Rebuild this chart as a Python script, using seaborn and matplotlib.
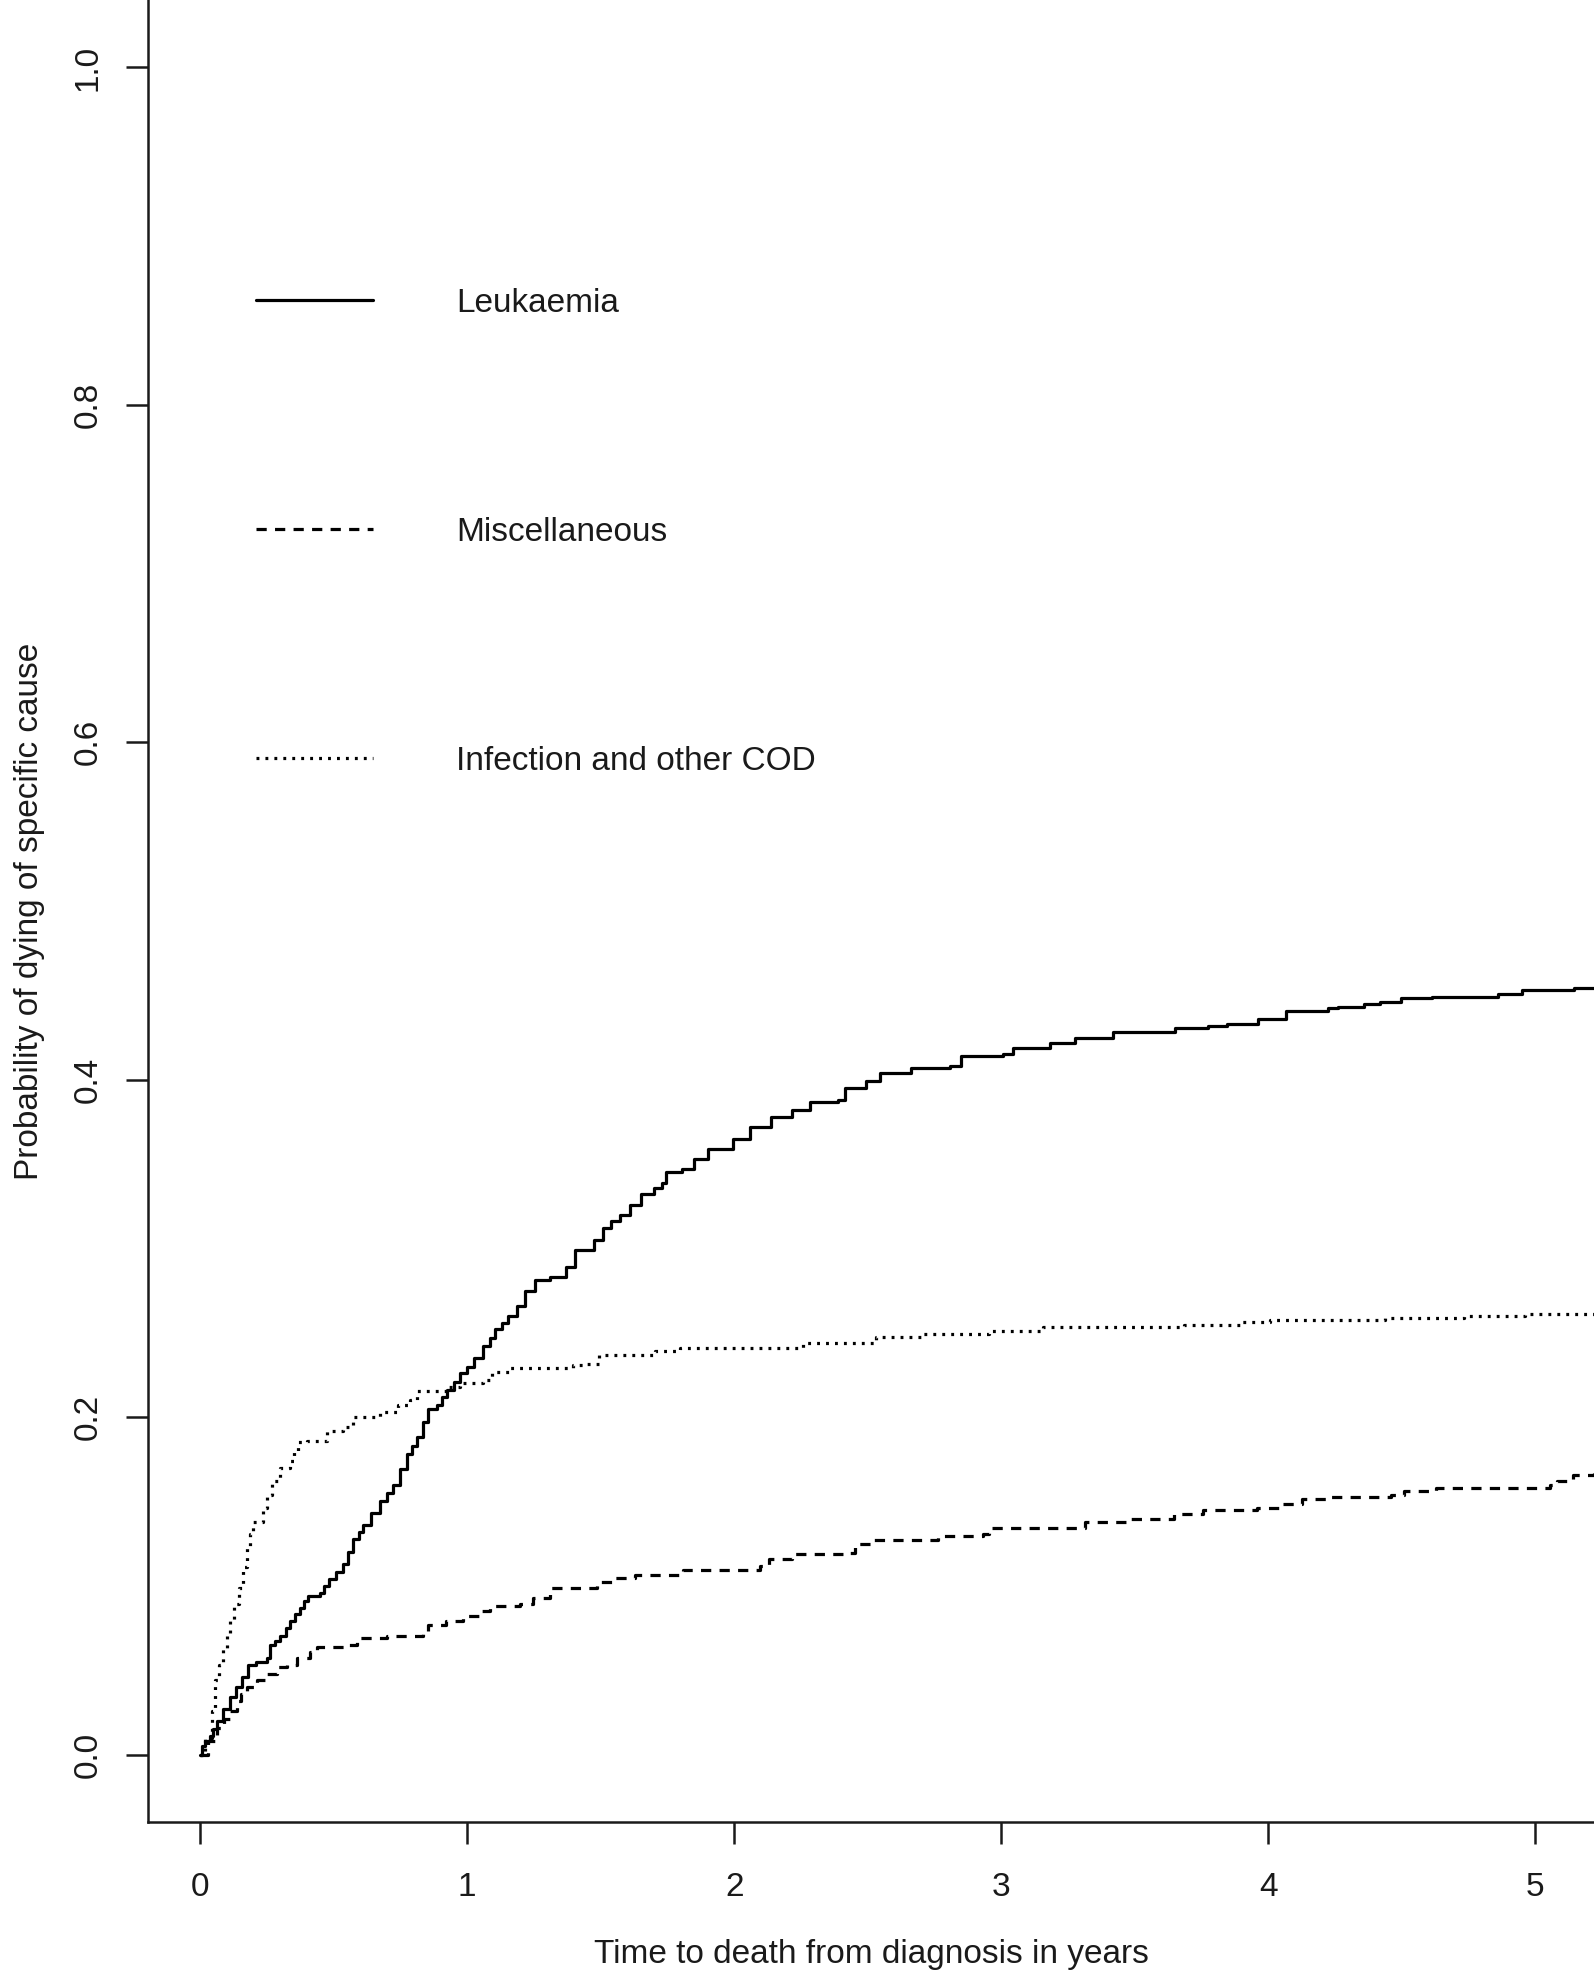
import numpy as np
import pandas as pd
import matplotlib
matplotlib.use('Agg')
import matplotlib.pyplot as plt
import seaborn as sns

# cumulative incidence by cause: (years, probability)
leukaemia = [(0.0, 0.0), (0.006, 0.005), (0.02, 0.008), (0.037, 0.011), (0.05, 0.015),
             (0.063, 0.020), (0.085, 0.027), (0.112, 0.034), (0.135, 0.040), (0.156, 0.046),
             (0.181, 0.053), (0.21, 0.055), (0.25, 0.057), (0.262, 0.065), (0.28, 0.067),
             (0.30, 0.070), (0.32, 0.075), (0.337, 0.079), (0.355, 0.083), (0.375, 0.087),
             (0.39, 0.091), (0.406, 0.094), (0.449, 0.096), (0.465, 0.100), (0.481, 0.104),
             (0.51, 0.108), (0.537, 0.113), (0.555, 0.120), (0.574, 0.128), (0.595, 0.132),
             (0.612, 0.136), (0.64, 0.143), (0.674, 0.150), (0.70, 0.155), (0.724, 0.160),
             (0.75, 0.169), (0.774, 0.178), (0.795, 0.183), (0.812, 0.188), (0.835, 0.197),
             (0.855, 0.205), (0.886, 0.207), (0.905, 0.212), (0.924, 0.216), (0.95, 0.221),
             (0.974, 0.226), (1.0, 0.230), (1.024, 0.235), (1.061, 0.242), (1.085, 0.247),
             (1.105, 0.252), (1.13, 0.256), (1.155, 0.260), (1.186, 0.266), (1.217, 0.275),
             (1.255, 0.281), (1.311, 0.283), (1.37, 0.289), (1.403, 0.299), (1.475, 0.305),
             (1.508, 0.312), (1.54, 0.316), (1.573, 0.320), (1.61, 0.326), (1.652, 0.332),
             (1.70, 0.336), (1.731, 0.339), (1.744, 0.345), (1.803, 0.347), (1.849, 0.353),
             (1.902, 0.359), (1.994, 0.365), (2.06, 0.372), (2.139, 0.378), (2.217, 0.382),
             (2.283, 0.387), (2.388, 0.388), (2.414, 0.395), (2.493, 0.399), (2.546, 0.404),
             (2.664, 0.407), (2.809, 0.408), (2.848, 0.414), (3.005, 0.415), (3.045, 0.419),
             (3.184, 0.4216), (3.275, 0.4245), (3.418, 0.428), (3.652, 0.4304), (3.775, 0.4318),
             (3.846, 0.4332), (3.963, 0.4358), (4.067, 0.4407), (4.223, 0.4423), (4.262, 0.4433),
             (4.36, 0.4447), (4.418, 0.4458), (4.496, 0.4482), (4.613, 0.4492), (4.86, 0.4506),
             (4.95, 0.4532), (5.146, 0.4545), (5.22, 0.4545)]

miscellaneous = [(0.0, 0.0), (0.03, 0.008), (0.062, 0.016), (0.09, 0.021), (0.112, 0.026),
                 (0.137, 0.032), (0.155, 0.036), (0.175, 0.040), (0.212, 0.044), (0.25, 0.048),
                 (0.287, 0.052), (0.325, 0.053), (0.362, 0.057), (0.412, 0.061), (0.437, 0.064),
                 (0.549, 0.065), (0.587, 0.069), (0.699, 0.070), (0.836, 0.072), (0.855, 0.077),
                 (0.92, 0.079), (0.986, 0.082), (1.049, 0.085), (1.086, 0.088), (1.199, 0.089),
                 (1.248, 0.093), (1.311, 0.0985), (1.423, 0.099), (1.486, 0.102), (1.546, 0.1048),
                 (1.629, 0.1067), (1.809, 0.1091), (2.095, 0.1117), (2.131, 0.1156), (2.215, 0.1186),
                 (2.418, 0.1196), (2.453, 0.1245), (2.525, 0.1269), (2.764, 0.1295), (2.931, 0.1308),
                 (2.955, 0.1344), (3.313, 0.138), (3.48, 0.1399), (3.648, 0.1423), (3.755, 0.1452),
                 (3.958, 0.1462), (4.054, 0.1482), (4.125, 0.1512), (4.221, 0.1528), (4.46, 0.1541),
                 (4.508, 0.1561), (4.627, 0.1581), (5.056, 0.16), (5.081, 0.162), (5.141, 0.1658),
                 (5.22, 0.1668)]

infection = [(0.0, 0.0), (0.02, 0.01), (0.044, 0.026), (0.056, 0.044), (0.07, 0.053),
             (0.087, 0.063), (0.1, 0.071), (0.112, 0.079), (0.128, 0.089), (0.144, 0.099),
             (0.162, 0.111), (0.175, 0.123), (0.188, 0.131), (0.2, 0.138), (0.237, 0.146),
             (0.252, 0.154), (0.268, 0.162), (0.30, 0.170), (0.337, 0.174), (0.352, 0.18),
             (0.368, 0.185), (0.40, 0.186), (0.474, 0.192), (0.537, 0.194), (0.574, 0.2),
             (0.674, 0.203), (0.74, 0.207), (0.787, 0.210), (0.812, 0.2156), (0.924, 0.218),
             (0.974, 0.220), (1.061, 0.222), (1.092, 0.227), (1.161, 0.229), (1.398, 0.2306),
             (1.442, 0.2317), (1.494, 0.2368), (1.704, 0.239), (1.797, 0.241), (2.257, 0.2442),
             (2.532, 0.2477), (2.703, 0.2494), (2.955, 0.2513), (3.157, 0.2533), (3.684, 0.2548),
             (3.899, 0.2564), (4.006, 0.2574), (4.436, 0.2587), (4.734, 0.26), (4.961, 0.2613),
             (5.22, 0.2613)]

labels = ['Leukaemia', 'Miscellaneous', 'Infection and other COD']
x_ticks = [0, 1, 2, 3, 4, 5]
y_ticks = [0.0, 0.2, 0.4, 0.6, 0.8, 1.0]

sns.set_style('ticks')
plt.rcParams['font.family'] = ['Liberation Sans', 'DejaVu Sans']
ink = '#1a1a1a'

fig = plt.figure(figsize=(15.94, 19.77), dpi=100)
ax = fig.add_axes([148 / 1594, 1 - 1822 / 1977, 1 - 148 / 1594, 1822 / 1977])

lw = 2.3
styles = ['-', (0, (3.2, 2.6)), (0, (0.9, 1.9))]
for series, lab, ls in zip([leukaemia, miscellaneous, infection], labels, styles):
    df = pd.DataFrame(series, columns=['years', 'prob'])
    sns.lineplot(data=df, x='years', y='prob', ax=ax, color='black', lw=lw,
                 drawstyle='steps-post', estimator=None, sort=False, label=lab,
                 linestyle=ls)

ax.set_xlim(-0.195, 5.22)
ax.set_ylim(-0.04, 1.04)
ax.set_xticks(x_ticks)
ax.set_xticklabels([str(v) for v in x_ticks])
ax.set_yticks(y_ticks)
ax.set_yticklabels([f'{v:.1f}' for v in y_ticks], rotation=90, va='center')

sns.despine(ax=ax, top=True, right=True)
for s in ['left', 'bottom']:
    ax.spines[s].set_linewidth(1.8)
    ax.spines[s].set_color(ink)
ax.tick_params(axis='both', length=16, width=1.8, color=ink, labelsize=24, labelcolor=ink)
ax.tick_params(axis='x', pad=20)
ax.tick_params(axis='y', pad=16)

ax.set_xlabel('Time to death from diagnosis in years', fontsize=24, color=ink, labelpad=26)
ax.set_ylabel('Probability of dying of specific cause', fontsize=24, color=ink, labelpad=20)

handles = ax.get_lines()
ax.legend(handles=handles, labels=labels, loc='upper left', bbox_to_anchor=(0.075, 0.842),
          frameon=False, fontsize=24, handlelength=3.5, handletextpad=2.5,
          labelspacing=5.94, borderpad=0, borderaxespad=0, labelcolor=ink)

fig.savefig('out.png', dpi=100, facecolor='white')
